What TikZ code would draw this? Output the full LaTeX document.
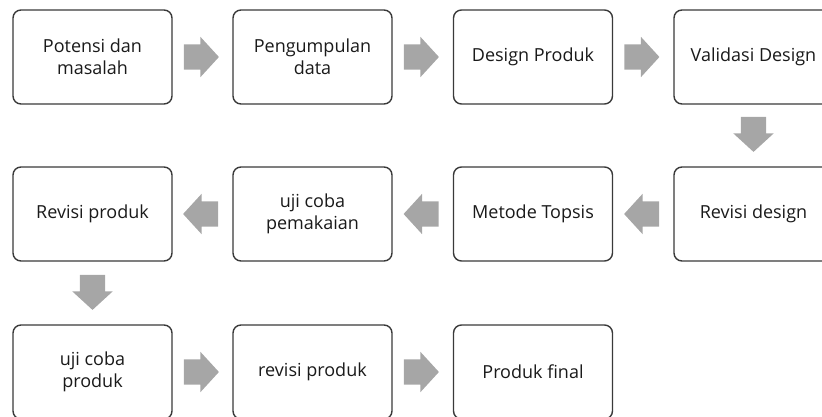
\documentclass[tikz,border=0pt]{standalone}
\usepackage{fontspec}
\setmainfont{Open Sans}
\usepackage{xcolor}
\definecolor{boxline}{HTML}{3A3A3A}
\definecolor{arrowgray}{HTML}{A6A6A6}
\definecolor{boxtext}{HTML}{1A1A1A}
\usetikzlibrary{shapes,shapes.arrows,calc}

\begin{document}
\begin{tikzpicture}[font=\fontsize{18bp}{22bp}\selectfont]
\tikzstyle{step box}=[draw=boxline,line width=1.4bp,rounded corners=8bp,fill=white,
  text=boxtext,minimum width=159bp,minimum height=94bp,align=center,inner sep=2bp]%
\tikzstyle{flow}=[single arrow,fill=arrowgray,draw=none,inner xsep=0pt,inner ysep=12.5bp,
  minimum height=35bp,minimum width=40bp,single arrow head extend=7.5bp,
  single arrow tip angle=95,anchor=tail]%
\tikzstyle{flow left}=[flow,shape border rotate=180]%
\tikzstyle{flow down}=[flow,rotate=-90]%
  \clip (0bp,0bp) rectangle (822bp,417bp);
  \useasboundingbox (0bp,0bp) rectangle (822bp,417bp);
  % first row
  \node (1) at (92.5bp,360bp) [step box] {Potensi dan\\masalah};
  \node (2) at (312.5bp,360bp) [step box] {Pengumpulan\\data};
  \node (3) at (533bp,360bp) [step box] {Design Produk};
  \node (4) at (753.5bp,360bp) [step box] {Validasi Design};
  % second row
  \node (5) at (753.5bp,203bp) [step box] {Revisi design};
  \node (6) at (533bp,203bp) [step box] {Metode Topsis};
  \node (7) at (312.5bp,203bp) [step box] {uji coba\\pemakaian};
  \node (8) at (92.5bp,203bp) [step box] {Revisi produk};
  % third row
  \node (9) at (92.5bp,45bp) [step box] {uji coba\\produk};
  \node (10) at (312.5bp,45bp) [step box] {revisi produk};
  \node (11) at (533bp,45bp) [step box] {Produk final};

  \node (a1) at ($(1.east)+(11bp,0)$) [flow] {};
  \node (a2) at ($(2.east)+(11bp,0)$) [flow] {};
  \node (a3) at ($(3.east)+(11bp,0)$) [flow] {};
  \node (a4) at ($(4.south)+(0,-12bp)$) [flow down] {};
  \node (a5) at ($(5.west)+(-14bp,0)$) [flow left] {};
  \node (a6) at ($(6.west)+(-14bp,0)$) [flow left] {};
  \node (a7) at ($(7.west)+(-14bp,0)$) [flow left] {};
  \node (a8) at ($(8.south)+(0,-13bp)$) [flow down] {};
  \node (a9) at ($(9.east)+(11bp,0)$) [flow] {};
  \node (a10) at ($(10.east)+(11bp,0)$) [flow] {};

\end{tikzpicture}
\end{document}
